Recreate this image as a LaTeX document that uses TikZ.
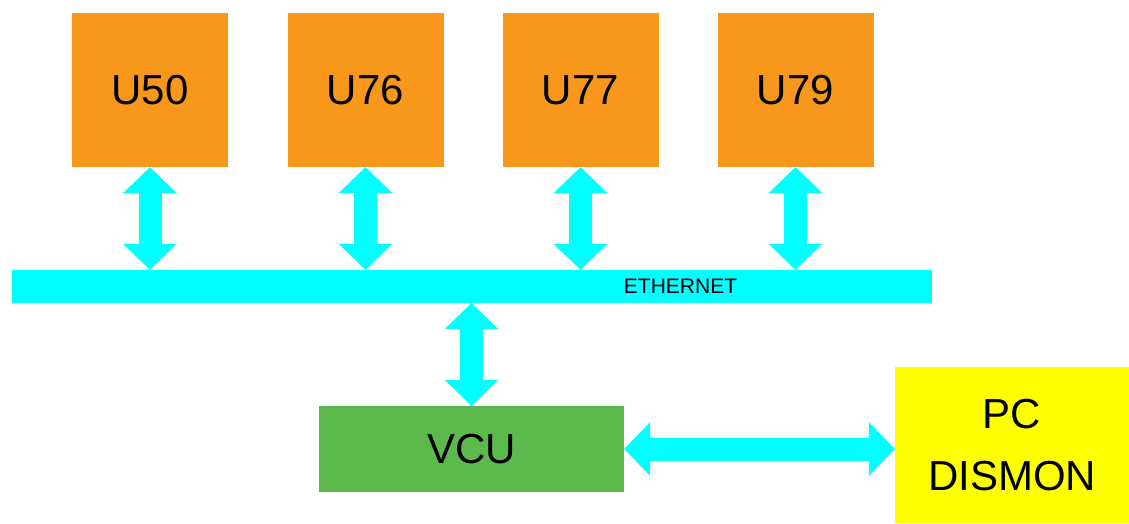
\documentclass[tikz,border=0pt]{standalone}
\usepackage{fontspec}
\setmainfont{Liberation Sans}
\usepackage{tikz}
\usetikzlibrary{arrows.meta}
\definecolor{unitorange}{HTML}{F7981D}
\definecolor{vcugreen}{HTML}{5CB94B}
\definecolor{buscyan}{HTML}{00FFFF}
\definecolor{pcyellow}{HTML}{FFFF00}
\newcommand{\HeadTip}{Triangle[length=26pt,width=54pt,line width=0pt]}

\begin{document}
\begin{tikzpicture}[x=1pt,y=1pt,
  box/.style={inner sep=0pt,font=\fontsize{42}{62}\selectfont,align=center},
  unit/.style={box,fill=unitorange,minimum width=156pt,minimum height=154pt},
  link/.style={draw=buscyan,line width=23pt,arrows={\HeadTip-\HeadTip}}]
  \useasboundingbox (0,0) rectangle (1129,523);
  % units on the bus
  \node[unit] (u50) at (150,433) {U50};
  \node[unit] (u76) at (365.5,433) {U76};
  \node[unit] (u77) at (580.5,433) {U77};
  \node[unit] (u79) at (795.5,433) {U79};
  % ethernet bus
  \node[fill=buscyan,inner sep=0pt,minimum width=920pt,minimum height=33pt] (eth) at (472,236.5) {};
  \node[font=\fontsize{21}{25}\selectfont] (ethlabel) at (680.5,236.5) {ETHERNET};
  % controller and pc
  \node[box,fill=vcugreen,minimum width=305pt,minimum height=86pt] (vcu) at (471.5,74) {VCU};
  \node[box,fill=pcyellow,minimum width=234pt,minimum height=156pt] (pc) at (1012,78) {PC\\DISMON};
  % links
  \draw[link] (u50.south) -- (u50.south |- eth.north);
  \draw[link] (u76.south) -- (u76.south |- eth.north);
  \draw[link] (u77.south) -- (u77.south |- eth.north);
  \draw[link] (u79.south) -- (u79.south |- eth.north);
  \draw[link] (vcu.north |- eth.south) -- (vcu.north);
  \draw[link] (vcu.east) -- (vcu.east -| pc.west);
\end{tikzpicture}
\end{document}
